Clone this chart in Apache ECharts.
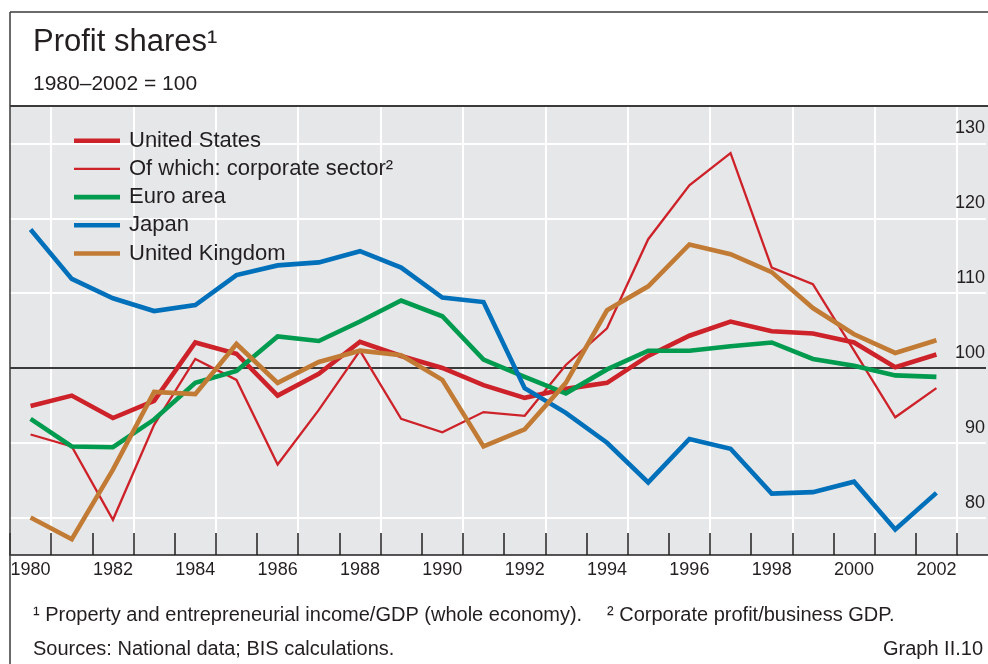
<!DOCTYPE html>
<html><head><meta charset="utf-8">
<script src="https://cdn.jsdelivr.net/npm/echarts@6/dist/echarts.min.js"></script>
<style>html,body{margin:0;padding:0;background:#fff}#c{width:988px;height:664px}</style>
</head><body><div id="c"></div>
<script>
const years = ['1980','1981','1982','1983','1984','1985','1986','1987','1988','1989','1990','1991','1992','1993','1994','1995','1996','1997','1998','1999','2000','2001','2002'];
const unitedStates = [94.9, 96.3, 93.3, 95.6, 103.4, 101.9, 96.3, 99.2, 103.5, 101.6, 100.0, 97.7, 96.0, 97.2, 98.0, 101.6, 104.3, 106.2, 104.9, 104.6, 103.4, 100.1, 101.8];
const corporateSector = [91.1, 89.5, 79.7, 92.4, 101.2, 98.4, 87.1, 94.4, 102.3, 93.2, 91.4, 94.1, 93.6, 100.4, 105.3, 117.2, 124.4, 128.7, 113.4, 111.2, 102.3, 93.4, 97.3];
const euroArea = [93.2, 89.5, 89.4, 93.1, 98.0, 99.6, 104.2, 103.6, 106.2, 109.0, 106.9, 101.1, 98.8, 96.6, 99.8, 102.3, 102.3, 102.9, 103.4, 101.2, 100.3, 99.0, 98.8];
const japan = [118.5, 111.9, 109.3, 107.6, 108.4, 112.4, 113.7, 114.1, 115.6, 113.4, 109.4, 108.8, 97.3, 94.0, 90.0, 84.7, 90.5, 89.2, 83.2, 83.4, 84.8, 78.4, 83.3];
const unitedKingdom = [80.0, 77.1, 86.4, 96.8, 96.5, 103.2, 98.0, 100.8, 102.3, 101.7, 98.4, 89.5, 91.8, 98.0, 107.7, 110.9, 116.5, 115.2, 112.8, 108.0, 104.5, 102.0, 103.7];
const yTickLabels = [80, 90, 100, 110, 120, 130];
const seriesNames = ['United States', 'Of which: corporate sector', 'Euro area', 'Japan', 'United Kingdom'];

const FONT = "'Liberation Sans', Arial, Helvetica, sans-serif";
const TXT = '#231f20';
const L = 10, R = 957, T = 106, B = 555, W = 988;
const yMin = 75, yMax = 135, yStep = 5;
const THICK = 4.6, THIN = 2.3;

const gridColors = [];
for (let v = yMin; v <= yMax; v += yStep) {
  gridColors.push(v === 100 ? '#3a3a3a' : (yTickLabels.includes(v) ? '#ffffff' : 'rgba(0,0,0,0)'));
}

const chart = echarts.init(document.getElementById('c'), null, {renderer: 'canvas'});

function txt(text, x, y, size, align) {
  return {type: 'text', z: 50, style: {text: text, x: x, y: y, fontSize: size, fontFamily: FONT, fill: TXT,
    textAlign: align || 'left', align: align || 'left', textVerticalAlign: 'middle', verticalAlign: 'middle'}};
}
function ln(x1, y1, x2, y2, w, c) {
  return {type: 'line', z: 40, shape: {x1: x1, y1: y1, x2: x2, y2: y2}, style: {stroke: c || '#3a3a3a', lineWidth: w}};
}
const barIcon = (h) => 'path://M0,0L46,0L46,' + h + 'L0,' + h + 'Z';

const mk = (name, data, color, width) => ({
  name: name, type: 'line', xAxisIndex: 0, yAxisIndex: 0, data: data,
  symbol: 'none', showSymbol: false, z: 5,
  lineStyle: {color: color, width: width, join: 'miter'}, itemStyle: {color: color}
});

const option = {
  backgroundColor: '#ffffff',
  animation: false,
  textStyle: {fontFamily: FONT},
  grid: [
    {left: L, top: T, width: R - L, height: B - T},
    {left: L, top: T, width: W - L, height: B - T}
  ],
  xAxis: [
    {type: 'category', gridIndex: 0, data: years, boundaryGap: true,
      axisLine: {show: true, onZero: false, lineStyle: {color: TXT, width: 1.5}},
      axisTick: {show: true, inside: true, length: 22, interval: 0, lineStyle: {color: TXT, width: 1.5}},
      axisLabel: {interval: 1, margin: 6, fontSize: 18, color: TXT, fontFamily: FONT},
      splitLine: {show: true, interval: (i) => i % 2 === 1, lineStyle: {color: '#ffffff', width: 2}}
    },
    {type: 'value', gridIndex: 1, show: false, min: 0, max: 1}
  ],
  yAxis: [
    {type: 'value', gridIndex: 0, min: yMin, max: yMax, show: false, splitLine: {show: false}},
    {type: 'value', gridIndex: 1, position: 'right', min: yMin, max: yMax, interval: yStep, z: 1,
      axisLine: {show: false}, axisTick: {show: false},
      splitLine: {show: true, lineStyle: {color: gridColors, width: 2}},
      axisLabel: {inside: true, margin: 1, fontSize: 18, color: TXT, fontFamily: FONT,
        verticalAlign: 'bottom', padding: [0, 0, 6, 0],
        formatter: (v) => yTickLabels.includes(v) ? String(v) : ''}
    }
  ],
  legend: {
    orient: 'vertical', left: 74, top: 126.7, padding: 0, itemWidth: 46, itemHeight: 14, itemGap: 0.2,
    selectedMode: false, symbolKeepAspect: true,
    itemStyle: {borderWidth: 0},
    data: [
      {name: seriesNames[0], icon: barIcon(THICK)},
      {name: seriesNames[1], icon: barIcon(THIN)},
      {name: seriesNames[2], icon: barIcon(THICK)},
      {name: seriesNames[3], icon: barIcon(THICK)},
      {name: seriesNames[4], icon: barIcon(THICK)}
    ],
    textStyle: {fontSize: 22, color: TXT, fontFamily: FONT, lineHeight: 17, padding: [0, 0, 11, 4]},
    formatter: (n) => n === seriesNames[1] ? n + '\u00b2' : n
  },
  series: [
    mk(seriesNames[0], unitedStates, '#cd2229', THICK),
    mk(seriesNames[1], corporateSector, '#cd2229', THIN),
    mk(seriesNames[2], euroArea, '#009b4f', THICK),
    mk(seriesNames[3], japan, '#0070bb', THICK),
    mk(seriesNames[4], unitedKingdom, '#c27b35', THICK)
  ],
  graphic: {elements: [
    {type: 'rect', z: -100, shape: {x: L, y: T, width: W - L, height: B - T}, style: {fill: '#e6e7e8'}},
    ln(L, 12, W, 12, 1.5),
    ln(L, 12, L, 664, 1.5),
    ln(L, T, W, T, 2),
    ln(R, B, W, B, 1.5, TXT),
    txt('Profit shares\u00b9', 33, 42, 31),
    txt('1980\u20132002 = 100', 33, 84.7, 21),
    txt('\u00b9 Property and entrepreneurial income/GDP (whole economy).', 33, 615, 20),
    txt('\u00b2 Corporate profit/business GDP.', 607, 615, 20),
    txt('Sources: National data; BIS calculations.', 33, 649, 20),
    txt('Graph II.10', 983, 649, 20, 'right')
  ]}
};
chart.setOption(option);
</script>
</body></html>
